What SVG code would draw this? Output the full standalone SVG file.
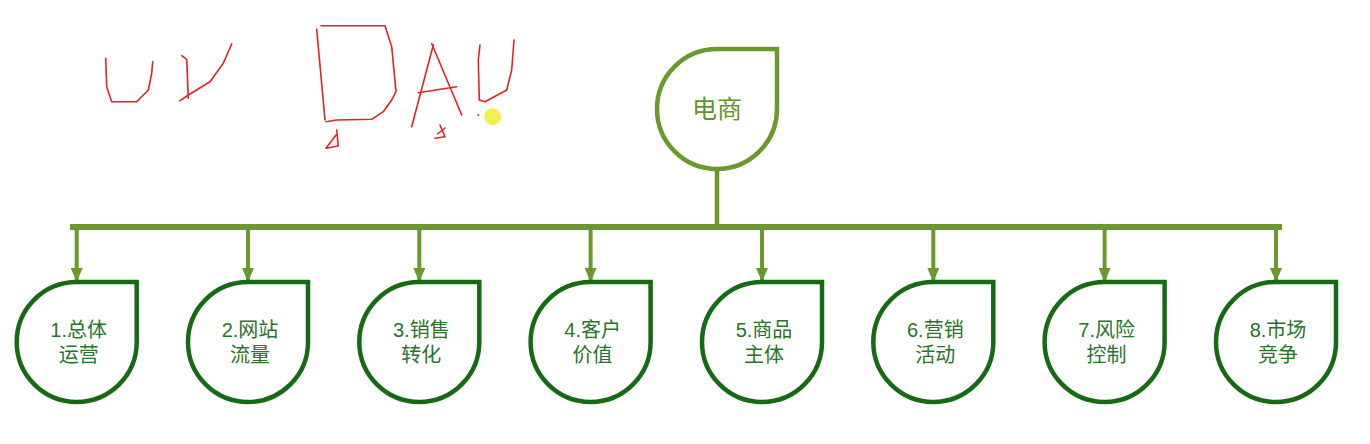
<svg xmlns="http://www.w3.org/2000/svg" width="1370" height="444" viewBox="0 0 1370 444">
  <style>
    .root { fill: #ffffff; stroke: #6b9a2a; stroke-width: 4.5; }
    .leaf { fill: #ffffff; stroke: #156b12; stroke-width: 4.5; }
    .rtext { font-family: "Noto Sans CJK SC", "Noto Sans", sans-serif; font-size: 25px; fill: #5f9630; text-anchor: middle; }
    .ltext { font-family: "Liberation Sans", "Noto Sans CJK SC", sans-serif; font-size: 20px; fill: #287428; text-anchor: middle; }
    .conn { stroke: #6b9a2a; fill: none; }
    .ink { fill: none; stroke: #e32222; stroke-width: 1.6; stroke-linecap: round; stroke-linejoin: round; }
  </style>
  <defs>
    <marker id="arrow" viewBox="0 0 14 12" refX="14" refY="6" markerWidth="14" markerHeight="12" markerUnits="userSpaceOnUse" orient="auto">
      <path d="M0,0 L14,6 L0,12 Z" fill="#6b9a2a"/>
    </marker>
    <path id="drop" d="M0,-60 L60,-60 L60,0 A60,60 0 1 1 0,-60 Z"/>
  </defs>
  <rect width="1370" height="444" fill="#ffffff"/>

  <g id="handwriting-annotation">
    <polyline class="ink" points="105.7,58.3 106.7,86.7 111.7,101.7 136.7,101.7 148.3,90 151.7,73.3 152.7,61.7"/>
    <polyline class="ink" points="181.7,55.7 186.7,59.3 188.3,98.3"/>
    <polyline class="ink" points="180,100.7 190,94 210,81.7 223.3,63.3 231.7,44"/>
    <polyline class="ink" points="316.7,29.3 325,120"/>
    <polyline class="ink" points="321,25.7 385,25.7 391.7,46.7 396,91.7 391.7,100 383.3,111.7 371.7,119.3 336.7,120 326,121.7"/>
    <polyline class="ink" points="336.7,130 338.3,146 326,148.3 336,135"/>
    <polyline class="ink" points="433.3,45 411.7,126.7"/>
    <polyline class="ink" points="431.7,43.5 461.7,115"/>
    <polyline class="ink" points="418.3,92.7 456.7,86.7"/>
    <polyline class="ink" points="440,125 445,136.7 435,138.3"/>
    <polyline class="ink" points="445,128 437.5,134"/>
    <polyline class="ink" points="480,45 478.3,60 479.3,100 485,101.7 506.7,90 511.7,70 514,40"/>
    <circle cx="478.3" cy="115" r="1" fill="#e32222"/>
    <circle cx="492.7" cy="116.7" r="8.5" fill="#f2ee3a" opacity="0.9"/>
  </g>

  <g id="connectors">
    <line class="conn" x1="717" y1="169" x2="717" y2="225" stroke-width="4.5"/>
    <line class="conn" x1="70" y1="227" x2="1282" y2="227" stroke-width="6"/>
    <line class="conn" x1="76.7" y1="229" x2="76.7" y2="282" stroke-width="4" marker-end="url(#arrow)"/>
    <line class="conn" x1="248" y1="229" x2="248" y2="282" stroke-width="4" marker-end="url(#arrow)"/>
    <line class="conn" x1="419.3" y1="229" x2="419.3" y2="282" stroke-width="4" marker-end="url(#arrow)"/>
    <line class="conn" x1="590.6" y1="229" x2="590.6" y2="282" stroke-width="4" marker-end="url(#arrow)"/>
    <line class="conn" x1="762" y1="229" x2="762" y2="282" stroke-width="4" marker-end="url(#arrow)"/>
    <line class="conn" x1="933.3" y1="229" x2="933.3" y2="282" stroke-width="4" marker-end="url(#arrow)"/>
    <line class="conn" x1="1104.6" y1="229" x2="1104.6" y2="282" stroke-width="4" marker-end="url(#arrow)"/>
    <line class="conn" x1="1276" y1="229" x2="1276" y2="282" stroke-width="4" marker-end="url(#arrow)"/>
  </g>

  <g id="node-root" transform="translate(717,109)">
    <use href="#drop" class="root"/>
    <text class="rtext" x="0" y="9">电商</text>
  </g>

  <g id="node-1" transform="translate(76.7,342)">
    <use href="#drop" class="leaf"/>
    <text class="ltext" x="2" y="-5">1.总体</text>
    <text class="ltext" x="2" y="20">运营</text>
  </g>
  <g id="node-2" transform="translate(248,342)">
    <use href="#drop" class="leaf"/>
    <text class="ltext" x="2" y="-5">2.网站</text>
    <text class="ltext" x="2" y="20">流量</text>
  </g>
  <g id="node-3" transform="translate(419.3,342)">
    <use href="#drop" class="leaf"/>
    <text class="ltext" x="2" y="-5">3.销售</text>
    <text class="ltext" x="2" y="20">转化</text>
  </g>
  <g id="node-4" transform="translate(590.6,342)">
    <use href="#drop" class="leaf"/>
    <text class="ltext" x="2" y="-5">4.客户</text>
    <text class="ltext" x="2" y="20">价值</text>
  </g>
  <g id="node-5" transform="translate(762,342)">
    <use href="#drop" class="leaf"/>
    <text class="ltext" x="2" y="-5">5.商品</text>
    <text class="ltext" x="2" y="20">主体</text>
  </g>
  <g id="node-6" transform="translate(933.3,342)">
    <use href="#drop" class="leaf"/>
    <text class="ltext" x="2" y="-5">6.营销</text>
    <text class="ltext" x="2" y="20">活动</text>
  </g>
  <g id="node-7" transform="translate(1104.6,342)">
    <use href="#drop" class="leaf"/>
    <text class="ltext" x="2" y="-5">7.风险</text>
    <text class="ltext" x="2" y="20">控制</text>
  </g>
  <g id="node-8" transform="translate(1276,342)">
    <use href="#drop" class="leaf"/>
    <text class="ltext" x="2" y="-5">8.市场</text>
    <text class="ltext" x="2" y="20">竞争</text>
  </g>
</svg>
